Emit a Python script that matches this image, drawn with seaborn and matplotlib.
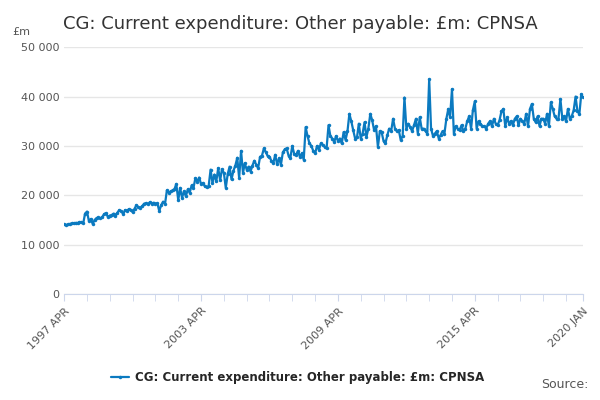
import matplotlib
matplotlib.use("Agg")
import matplotlib.pyplot as plt
import seaborn as sns
import pandas as pd
import numpy as np

values = [
14.1,14.0,14.1,14.2,14.3,14.3,14.4,14.4,14.5,
14.5,14.4,16.3,16.7,14.8,15.2,14.2,15.0,15.4,15.5,15.3,15.6,
16.2,16.4,15.6,15.9,16.0,16.3,15.8,16.5,17.0,16.8,16.2,17.0,
16.9,17.2,17.0,16.6,17.3,18.0,17.6,17.5,17.8,18.3,18.4,18.2,
18.6,18.3,18.5,18.2,18.4,16.8,18.0,18.7,18.2,21.0,20.5,20.8,
21.0,21.3,22.3,19.0,21.5,19.5,20.8,19.8,21.2,20.5,22.0,21.5,
23.5,22.7,23.6,22.3,22.5,21.8,21.6,21.9,25.2,22.5,24.2,22.8,
25.5,23.0,25.3,24.5,21.5,24.3,25.8,23.2,25.0,26.0,27.6,23.5,
29.0,24.5,26.5,25.2,25.8,24.8,26.0,27.0,26.2,25.5,27.8,28.0,
29.5,28.7,28.0,27.8,27.0,26.5,28.2,26.3,27.5,26.2,28.7,29.3,
29.5,28.0,27.6,30.0,28.4,28.2,29.0,27.8,28.5,27.2,33.8,32.0,
30.5,30.0,29.0,28.5,30.0,29.2,30.5,30.2,29.8,29.5,34.2,32.0,
31.5,30.8,32.0,31.0,31.5,30.5,32.8,31.2,33.0,36.5,35.0,33.2,
31.5,31.8,34.5,31.5,32.5,34.8,31.8,33.5,36.5,35.2,33.2,34.0,
29.8,33.0,32.8,31.0,30.5,32.2,33.5,33.0,35.5,33.5,33.0,33.2,
31.2,32.0,39.8,33.5,34.5,33.8,33.0,34.2,35.5,32.5,35.8,33.5,
33.5,33.0,32.5,43.5,33.5,32.0,32.5,33.0,31.5,32.2,33.0,32.5,
35.5,37.5,35.8,41.5,32.5,34.0,33.5,33.2,34.2,33.0,33.5,35.0,
36.0,33.5,37.2,39.0,33.5,35.0,34.5,34.0,34.0,33.5,34.5,35.0,
34.0,35.5,34.5,34.2,35.2,37.0,37.5,34.0,35.8,34.5,35.0,34.2,
35.5,36.0,34.2,35.5,35.0,34.5,36.5,34.0,37.5,38.5,35.5,34.8,
36.0,34.0,35.5,35.5,34.5,36.5,34.0,38.8,37.5,36.0,35.5,35.5,
39.5,35.5,36.0,35.0,37.5,35.5,36.0,37.2,40.0,37.0,36.5,40.5,
40.0]
dates = pd.date_range("1997-04-01", periods=len(values), freq="MS")
df = pd.DataFrame({"date": dates, "v": np.array(values) * 1000})
tick_labels = ["1997 APR", "2003 APR", "2009 APR", "2015 APR", "2020 JAN"]
tick_dates = pd.to_datetime(["1997-04-01", "2003-04-01", "2009-04-01", "2015-04-01", "2020-01-01"])

sns.set_style("white")
fig = plt.figure(figsize=(6, 4), dpi=100)
ax = fig.add_axes([0.107, 0.265, 0.865, 0.617])
col = "#0b7ac0"
sns.lineplot(data=df, x="date", y="v", ax=ax, color=col, lw=1.6, marker="o", ms=2.5,
             markeredgewidth=0, label="CG: Current expenditure: Other payable: £m: CPNSA")
ax.set_ylim(0, 50000)
ax.set_yticks(range(0, 50001, 10000))
ax.set_yticklabels(["0"] + [f"{v//1000} 000" for v in range(10000, 50001, 10000)], fontsize=8, color="#555")
ax.set_xlim(dates[0], dates[-1])
ax.set_xticks(tick_dates)
ax.set_xticklabels(tick_labels, rotation=45, ha="right", fontsize=8, color="#555", rotation_mode="anchor")
ax.set_xticks(pd.date_range("1998-04-01", "2019-04-01", freq="12MS"), minor=True)
ax.tick_params(axis="x", which="both", length=5, color="#ccd6eb", direction="out", bottom=True)
ax.tick_params(axis="y", length=0)
ax.grid(axis="y", color="#e6e6e6", lw=1)
for s in ["top", "right", "left"]:
    ax.spines[s].set_visible(False)
ax.spines["bottom"].set_color("#ccd6eb")
ax.set_xlabel(""); ax.set_ylabel("")
fig.text(0.105, 0.94, "CG: Current expenditure: Other payable: £m: CPNSA", fontsize=13, color="#333", va="center")
fig.text(0.02, 0.92, "£m", fontsize=8, color="#555", va="center")
ax.legend(loc="upper center", bbox_to_anchor=(0.45, -0.27), frameon=False, handlelength=1.5,
          handletextpad=0.5, prop={"weight": "bold", "size": 8.5})
fig.text(0.98, 0.03, "Source:", fontsize=9, color="#555", ha="right")
fig.savefig("out.png", dpi=100)
